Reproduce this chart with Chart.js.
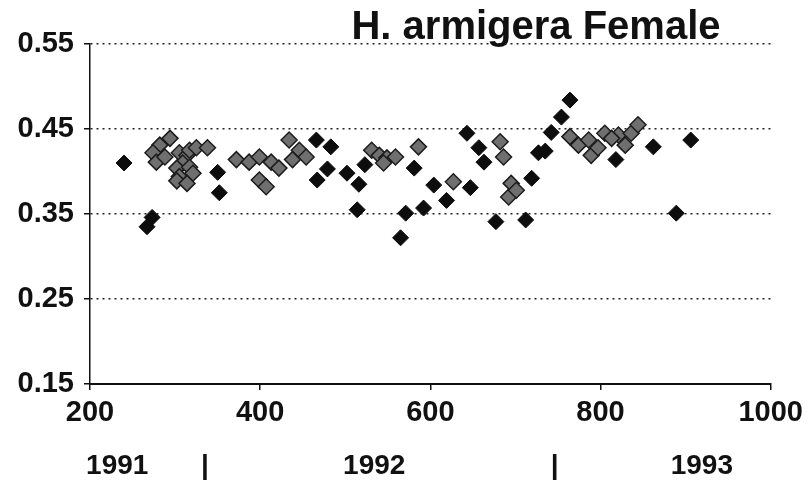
<!DOCTYPE html>
<html lang="en">
<head>
    <meta charset="UTF-8">
    <title>H. armigera Female</title>
    <style>
        html, body { margin: 0; padding: 0; background: #ffffff; }
        #wrap { width: 809px; height: 481px; }
    </style>
</head>
<body>
    <div id="wrap"><canvas id="scatterChart" width="809" height="481"></canvas></div>

    <script src="https://cdn.jsdelivr.net/npm/chart.js"></script>
    <script>
        // x = day number, y = ratio
        const darkX = [240, 267, 273, 350, 352, 466, 483, 479, 467, 502, 523, 514, 516, 581, 571, 592, 565, 604,
                       619, 647, 643, 657, 663, 677, 712, 719, 727, 735, 742, 754, 764, 818, 862, 906, 889];
        const darkY = [0.410, 0.335, 0.346, 0.399, 0.375, 0.437, 0.429, 0.403, 0.390, 0.398, 0.408, 0.355, 0.385, 0.404, 0.351, 0.357, 0.322, 0.384,
                       0.366, 0.381, 0.445, 0.428, 0.411, 0.341, 0.343, 0.392, 0.422, 0.424, 0.446, 0.464, 0.484, 0.414, 0.429, 0.437, 0.351];

        const greyX = [294, 282, 274, 278, 288, 305, 314, 317, 325, 338, 309, 302, 317, 321, 305, 302, 314,
                       372, 387, 399, 413, 422, 399, 407, 434, 446, 454, 438,
                       531, 540, 549, 559, 545, 586, 627,
                       682, 686, 695, 692, 701,
                       764, 774, 786, 789, 797,
                       805, 821, 836, 844, 829, 813];
        const greyY = [0.439, 0.431, 0.422, 0.411, 0.417, 0.422, 0.419, 0.425, 0.428, 0.428, 0.410, 0.404, 0.405, 0.398, 0.394, 0.389, 0.386,
                       0.414, 0.411, 0.417, 0.411, 0.404, 0.390, 0.382, 0.437, 0.425, 0.417, 0.414,
                       0.425, 0.419, 0.416, 0.417, 0.410, 0.429, 0.388,
                       0.435, 0.417, 0.386, 0.370, 0.378,
                       0.441, 0.431, 0.437, 0.419, 0.428,
                       0.445, 0.443, 0.445, 0.455, 0.431, 0.439];

        const yTicks = [0.15, 0.25, 0.35, 0.45, 0.55];
        const xTicks = [200, 400, 600, 800, 1000];

        // year row under the x axis
        const yearLabels = ['1991', '|', '1992', '|', '1993'];
        const yearAt = [232, 335, 534, 746, 919];

        const toPoints = (xs, ys) => xs.map((x, i) => ({ x: x, y: ys[i] }));

        // title + year row drawn on top
        const extraText = {
            id: 'extraText',
            afterDraw(chart) {
                const ctx = chart.ctx;
                const xs = chart.scales.x;
                ctx.save();
                ctx.fillStyle = '#111';
                ctx.font = 'bold 40px "Liberation Sans", Arial, sans-serif';
                ctx.textAlign = 'center';
                ctx.textBaseline = 'alphabetic';
                ctx.fillText('H. armigera Female', 536, 39);

                ctx.font = 'bold 28px "Liberation Sans", Arial, sans-serif';
                ctx.textBaseline = 'middle';
                yearLabels.forEach((t, i) => {
                    ctx.fillText(t, xs.getPixelForValue(yearAt[i]), 466);
                });
                ctx.restore();
            }
        };

        const tickFont = { family: '"Liberation Sans", Arial, sans-serif', size: 29, weight: 'bold' };

        const ctx = document.getElementById('scatterChart').getContext('2d');
        new Chart(ctx, {
            type: 'scatter',
            data: {
                datasets: [{
                    label: 'dark',
                    data: toPoints(darkX, darkY),
                    pointStyle: 'rectRot',
                    pointRadius: 8,
                    backgroundColor: '#0d0d0d',
                    borderColor: '#0d0d0d',
                    borderWidth: 1
                }, {
                    label: 'grey',
                    data: toPoints(greyX, greyY),
                    pointStyle: 'rectRot',
                    pointRadius: 8,
                    backgroundColor: '#6f6f6f',
                    borderColor: '#1c1c1c',
                    borderWidth: 1.5
                }]
            },
            options: {
                responsive: false,
                animation: false,
                events: [],
                layout: { padding: { top: 44, right: 30, left: 0, bottom: 0 } },
                plugins: {
                    legend: { display: false },
                    tooltip: { enabled: false },
                    title: { display: false }
                },
                scales: {
                    x: {
                        type: 'linear',
                        min: 200,
                        max: 1000,
                        afterBuildTicks: s => { s.ticks = xTicks.map(v => ({ value: v })); },
                        afterFit: s => { s.height = 97; },
                        ticks: { color: '#111', font: tickFont, padding: 6, maxRotation: 0, callback: v => String(v) },
                        grid: { drawOnChartArea: false, drawTicks: true, tickLength: 6, tickColor: '#111', lineWidth: 1.5 },
                        border: { color: '#111', width: 2 }
                    },
                    y: {
                        min: 0.15,
                        max: 0.55,
                        afterBuildTicks: s => { s.ticks = yTicks.map(v => ({ value: v })); },
                        afterFit: s => { s.width = 90; },
                        ticks: { color: '#111', font: tickFont, padding: 10, callback: v => v.toFixed(2) },
                        grid: {
                            color: c => (c.tick && c.tick.value > 0.2 ? '#222' : 'rgba(0,0,0,0)'),
                            lineWidth: 1.5,
                            drawTicks: true,
                            tickLength: 6,
                            tickColor: '#111'
                        },
                        border: { color: '#111', width: 1.5, dash: [2, 4] }
                    }
                }
            },
            plugins: [extraText]
        });
    </script>
</body>
</html>
